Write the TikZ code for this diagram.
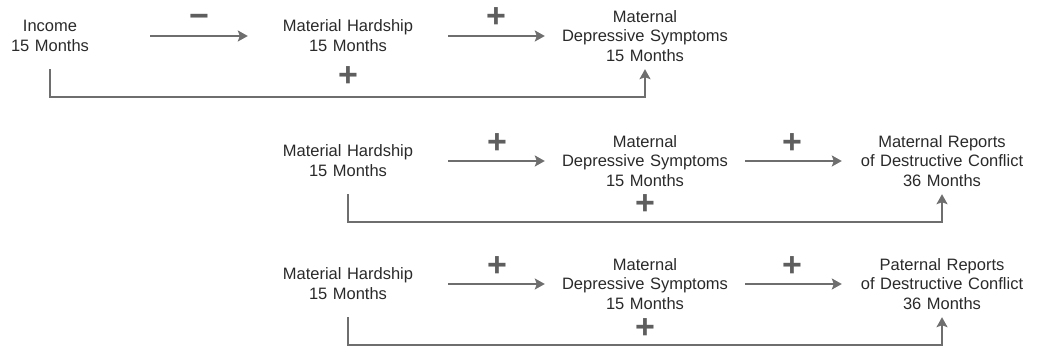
\documentclass[tikz,border=0pt]{standalone}
\usepackage{fontspec}
\setmainfont{Liberation Sans}
\usetikzlibrary{arrows.meta}
\definecolor{txt}{HTML}{2A2A2A}
\definecolor{ln}{HTML}{6E6E6E}
\definecolor{sg}{HTML}{5E5E5E}
\begin{document}
\begin{tikzpicture}[x=1pt,y=-1pt,
  box/.style={text width=200pt, align=center, inner sep=0pt, minimum height=66pt,
    text=txt, font=\fontsize{16.5}{19.8}\selectfont},
  arr/.style={draw=ln, line width=1.8pt, -{Stealth[length=10pt,width=11pt,inset=2pt]}},
  sign/.style={text=sg, inner sep=0pt, text height=19pt, text depth=0pt,
    font=\fontsize{34}{34}\selectfont\bfseries}]
\useasboundingbox (0,0) rectangle (1040,352);
% row 1
\node[box] (inc) at (50,36) {Income\\15 Months};
\node[box] (mh1) at (348,36) {Material Hardship\\15 Months};
\node[box] (mds1) at (645,36) {Maternal\\Depressive Symptoms\\15 Months};
\draw[arr] (inc.east) -- (mh1.west);
\draw[arr] (mh1.east) -- (mds1.west);
\draw[arr] (inc.south) -- ++(0,28) -| (mds1.south);
\node[sign] (s1) at (199,18.5) {−};
\node[sign] (s2) at (496,18) {+};
\node[sign] (s3) at (348,77) {+};
% row 2
\node[box] (mh2) at (348,161) {Material Hardship\\15 Months};
\node[box] (mds2) at (645,161) {Maternal\\Depressive Symptoms\\15 Months};
\node[box] (mr2) at (942,161) {Maternal Reports\\of Destructive Conflict\\36 Months};
\draw[arr] (mh2.east) -- (mds2.west);
\draw[arr] (mds2.east) -- (mr2.west);
\draw[arr] (mh2.south) -- ++(0,28) -| (mr2.south);
\node[sign] (s4) at (497,144) {+};
\node[sign] (s5) at (792,144) {+};
\node[sign] (s6) at (645,205) {+};
% row 3
\node[box] (mh3) at (348,284) {Material Hardship\\15 Months};
\node[box] (mds3) at (645,284) {Maternal\\Depressive Symptoms\\15 Months};
\node[box] (pr3) at (942,284) {Paternal Reports\\of Destructive Conflict\\36 Months};
\draw[arr] (mh3.east) -- (mds3.west);
\draw[arr] (mds3.east) -- (pr3.west);
\draw[arr] (mh3.south) -- ++(0,28) -| (pr3.south);
\node[sign] (s7) at (497,267) {+};
\node[sign] (s8) at (792,267) {+};
\node[sign] (s9) at (645,329) {+};
\end{tikzpicture}
\end{document}
